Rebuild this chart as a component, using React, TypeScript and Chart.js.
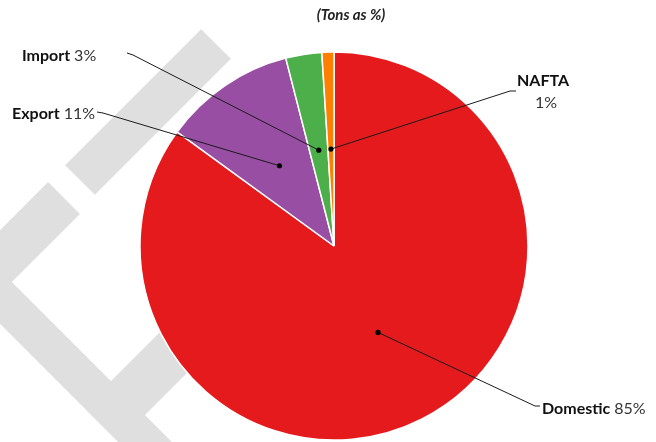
import React, { useEffect, useRef } from "react";
import { Chart, registerables } from "chart.js";

Chart.register(...registerables);

const categories = ["Domestic", "Export", "Import", "NAFTA"];
const shares = [85, 11, 3, 1];
const sliceColors = ["#e41a1c", "#984ea3", "#4daf4a", "#ff7f00"];
const titleText = "(Tons as %)";

// label layout: text position, leader-line end points (page px)
const labelLayout = [
  { lines: 1, x: 542, y: 409, align: "left", path: [[535, 406], [540, 406]] },
  { lines: 1, x: 12, y: 114, align: "left", path: [[103, 113], [97, 112]] },
  { lines: 1, x: 22, y: 56, align: "left", path: [[133, 55], [127, 53]] },
  { lines: 2, x: 543, y: 81, align: "center", path: [[510, 91], [516, 91]] },
];

const FONT = "Lato, 'Open Sans', sans-serif";

const watermark = {
  id: "watermark",
  beforeDatasetsDraw(chart: any) {
    const ctx = chart.ctx;
    ctx.save();
    ctx.strokeStyle = "#dfdfdf";
    ctx.lineCap = "butt";
    ctx.lineJoin = "round";
    const bar = (x1: number, y1: number, x2: number, y2: number, w: number) => {
      ctx.lineWidth = w;
      ctx.beginPath();
      ctx.moveTo(x1, y1);
      ctx.lineTo(x2, y2);
      ctx.stroke();
    };
    bar(216, 44, 80, 180, 42);
    bar(64, 198, -40, 302, 45);
    bar(-20, 277, 180, 477, 38);
    bar(112, 414, 215, 311, 48);
    ctx.restore();
  },
};

const labelsPlugin = {
  id: "pieLabels",
  afterDraw(chart: any) {
    const ctx = chart.ctx;
    const meta = chart.getDatasetMeta(0);
    ctx.save();
    // title
    ctx.fillStyle = "#222";
    ctx.font = `italic bold 15px ${FONT}`;
    ctx.textAlign = "center";
    ctx.textBaseline = "middle";
    ctx.fillText(titleText, 351, 15);

    meta.data.forEach((arc: any, i: number) => {
      const p = arc.tooltipPosition();
      const lay = labelLayout[i];
      // leader line
      ctx.strokeStyle = "#1a1a1a";
      ctx.lineWidth = 1;
      ctx.beginPath();
      ctx.moveTo(p.x, p.y);
      lay.path.forEach(([x, y]) => ctx.lineTo(x, y));
      ctx.stroke();
      ctx.fillStyle = "#000";
      ctx.beginPath();
      ctx.arc(p.x, p.y, 2.6, 0, Math.PI * 2);
      ctx.fill();

      const name = categories[i];
      const pct = `${shares[i]}%`;
      ctx.textBaseline = "middle";
      if (lay.lines === 2) {
        ctx.textAlign = "center";
        ctx.font = `bold 16px ${FONT}`;
        ctx.fillStyle = "#111";
        ctx.fillText(name, lay.x, lay.y);
        ctx.font = `16px ${FONT}`;
        ctx.fillStyle = "#333";
        ctx.fillText(pct, lay.x + 3, lay.y + 22);
      } else {
        ctx.textAlign = "left";
        ctx.font = `bold 16px ${FONT}`;
        ctx.fillStyle = "#111";
        ctx.fillText(name, lay.x, lay.y);
        const w = ctx.measureText(name + " ").width;
        ctx.font = `16px ${FONT}`;
        ctx.fillStyle = "#333";
        ctx.fillText(pct, lay.x + w, lay.y);
      }
    });
    ctx.restore();
  },
};

export default function App() {
  const ref = useRef<HTMLCanvasElement>(null);
  useEffect(() => {
    if (!ref.current) return;
    const chart = new Chart(ref.current, {
      type: "pie",
      data: {
        labels: categories,
        datasets: [
          {
            data: shares,
            backgroundColor: sliceColors,
            borderColor: "#ffffff",
            borderWidth: 1.5,
            hoverOffset: 0,
          },
        ],
      },
      options: {
        responsive: false,
        animation: false,
        radius: 194,
        layout: { padding: { left: 12, right: 0, top: 50, bottom: 0 } },
        plugins: {
          legend: { display: false },
          title: { display: false },
          tooltip: { enabled: false },
        },
      } as any,
      plugins: [watermark, labelsPlugin],
    });
    return () => chart.destroy();
  }, []);
  return (
    <div style={{ position: "fixed", left: 0, top: 0, width: 656, height: 442, background: "#fff" }}>
      <canvas ref={ref} width={656} height={442} style={{ display: "block" }} />
    </div>
  );
}
